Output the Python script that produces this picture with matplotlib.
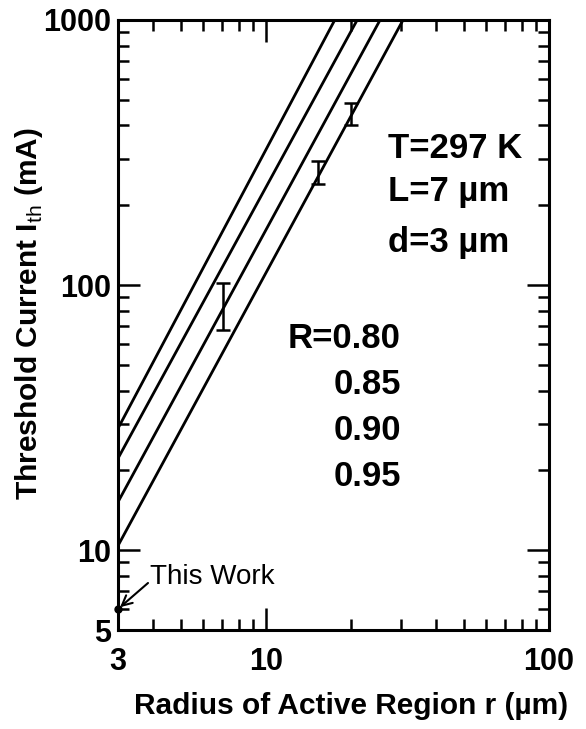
import matplotlib
matplotlib.use("Agg")
import matplotlib.pyplot as plt
import numpy as np

plt.rcParams['font.family'] = ['Liberation Sans', 'DejaVu Sans']
plt.rcParams['mathtext.fontset'] = 'custom'
plt.rcParams['mathtext.rm'] = 'Liberation Sans'
plt.rcParams['mathtext.bf'] = 'Liberation Sans:bold'

# Theoretical lines: threshold current vs radius, for mirror reflectivity R
R_values = ["R=0.80", "0.85", "0.90", "0.95"]
r_start = [3.0, 3.0, 3.0, 3.0]
I_start = [28.8, 22.2, 15.2, 10.4]
r_end = [17.5, 21.0, 25.3, 30.5]
I_end = [1000.0, 1000.0, 1000.0, 1000.0]

# Measured threshold currents (error bars)
r_meas = [7.05, 15.3, 20.0]
I_low = [68.0, 240.0, 402.0]
I_high = [102.0, 294.0, 486.0]

# This work
r_this = [3.0]
I_this = [6.0]

x_ticks = [3, 10, 100]
x_ticklabels = ["3", "10", "100"]
y_ticks = [5, 10, 100, 1000]
y_ticklabels = ["5", "10", "100", "1000"]

W, H = 586, 729
fig = plt.figure(figsize=(W/100, H/100), dpi=100)
ax = fig.add_axes([118/W, 1-630/H, (549-118)/W, (630-20)/H])
ax.set_xscale('log')
ax.set_yscale('log')
ax.set_xlim(3, 100)
ax.set_ylim(5, 1000)

for xs, ys, xe, ye in zip(r_start, I_start, r_end, I_end):
    ax.plot([xs, xe], [ys, ye], color='black', lw=2.0, solid_capstyle='butt')

r_meas_a = np.array(r_meas)
I_low_a = np.array(I_low)
I_high_a = np.array(I_high)
I_mid = np.sqrt(I_low_a * I_high_a)
ax.errorbar(r_meas_a, I_mid, yerr=[I_mid - I_low_a, I_high_a - I_mid], fmt='none',
            ecolor='black', elinewidth=1.8, capsize=4.8, capthick=1.8)

ax.plot(r_this, I_this, 'o', color='black', markersize=5, clip_on=False, zorder=5)
ax.annotate("This Work", xy=(150, H - 577), xycoords='figure pixels',
            fontsize=20, ha='left', va='center')
ax.annotate("", xy=(r_this[0], I_this[0]), xycoords='data',
            xytext=(148, H - 583), textcoords='figure pixels',
            arrowprops=dict(arrowstyle='->', color='black', lw=1.5,
                            shrinkA=0, shrinkB=2, mutation_scale=18))

# Parameter annotations
for txt, y in [("T=297 K", 148), ("L=7 µm", 191), ("d=3 µm", 243)]:
    fig.text(388/W, 1 - y/H, txt, fontsize=25, fontweight='bold', ha='left', va='center')

R_y = [338, 384, 430, 476]
for txt, y in zip(R_values, R_y):
    fig.text(401/W, 1 - y/H, txt, fontsize=25, fontweight='bold', ha='right', va='center')

ax.set_xticks(x_ticks)
ax.set_xticklabels(x_ticklabels)
ax.set_yticks(y_ticks)
ax.set_yticklabels(y_ticklabels)
ax.xaxis.set_minor_locator(matplotlib.ticker.LogLocator(base=10, subs=np.arange(2, 10)))
ax.yaxis.set_minor_locator(matplotlib.ticker.LogLocator(base=10, subs=np.arange(2, 10)))
ax.xaxis.set_minor_formatter(matplotlib.ticker.NullFormatter())
ax.yaxis.set_minor_formatter(matplotlib.ticker.NullFormatter())

ax.tick_params(which='both', direction='in', top=True, right=True, width=1.8, color='black')
ax.tick_params(which='major', length=16)
ax.tick_params(which='minor', length=8)
ax.tick_params(axis='x', which='major', pad=12, labelsize=22)
ax.tick_params(axis='y', which='major', pad=5, labelsize=22)
for lab in ax.get_xticklabels() + ax.get_yticklabels():
    lab.set_fontweight('bold')

for s in ax.spines.values():
    s.set_linewidth(2.2)

ax.set_xlabel("Radius of Active Region r (µm)", fontsize=21.5, fontweight='bold', va='center')
ax.xaxis.set_label_coords((351-118)/431, -(706-630)/610)
ax.set_ylabel(r"Threshold Current I$_{\mathrm{th}}$ (mA)", fontsize=21.5, fontweight='bold', va='center')
ax.yaxis.set_label_coords(-(118-29)/431, (630-314)/610)

fig.savefig("out.png", dpi=100)
